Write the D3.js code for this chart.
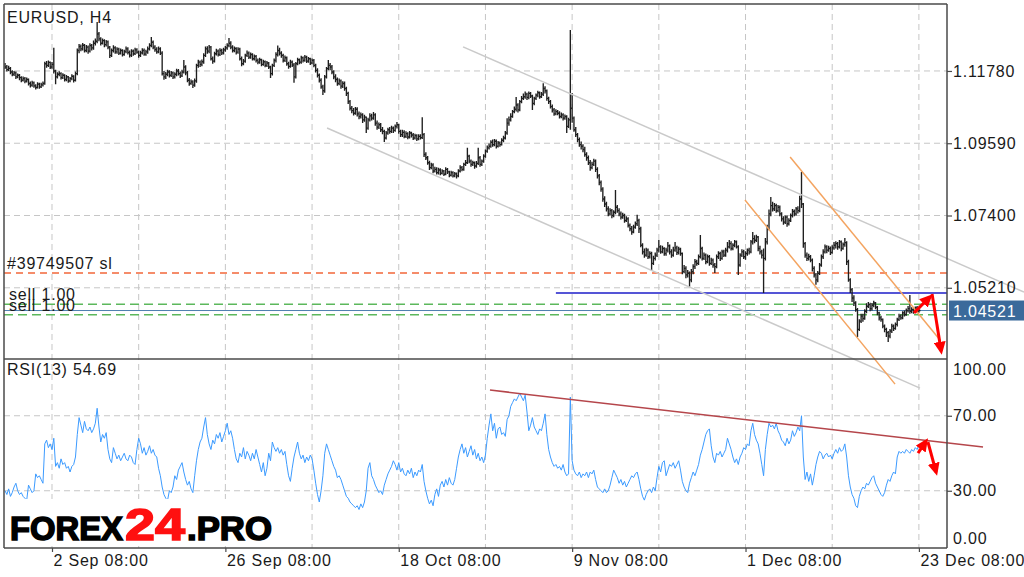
<!DOCTYPE html>
<html>
<head>
<meta charset="utf-8">
<script src="https://cdn.jsdelivr.net/npm/d3@7/dist/d3.min.js"></script>
<style>
body { margin: 0; background: #fff; }
svg text { font-family: "Liberation Sans", Arial, sans-serif; }
</style>
</head>
<body>
<svg id="chart" width="1024" height="577"></svg>
<script>
// EURUSD H4 bars, 2016 (high / low / close per bar)
var highs = [
1.1202,1.1196,1.1194,1.1190,1.1180,1.1178,1.1176,1.1170,1.1169,1.1162,
1.1161,1.1160,1.1158,1.1155,1.1146,1.1148,1.1146,1.1138,1.1144,1.1142,
1.1142,1.1146,1.1206,1.1208,1.1210,1.1207,1.1205,1.1248,1.1182,1.1174,
1.1177,1.1174,1.1171,1.1168,1.1166,1.1163,1.1160,1.1168,1.1165,1.1176,
1.1246,1.1260,1.1258,1.1263,1.1260,1.1257,1.1255,1.1262,1.1260,1.1270,
1.1276,1.1326,1.1296,1.1280,1.1276,1.1274,1.1272,1.1270,1.1254,1.1246,
1.1256,1.1253,1.1250,1.1248,1.1246,1.1244,1.1242,1.1252,1.1250,1.1240,
1.1244,1.1243,1.1248,1.1247,1.1240,1.1239,1.1247,1.1246,1.1242,1.1252,
1.1262,1.1281,1.1270,1.1256,1.1250,1.1252,1.1250,1.1238,1.1178,1.1175,
1.1182,1.1180,1.1178,1.1176,1.1174,1.1185,1.1184,1.1176,1.1182,1.1211,
1.1195,1.1178,1.1157,1.1152,1.1150,1.1155,1.1200,1.1212,1.1210,1.1213,
1.1232,1.1252,1.1253,1.1257,1.1254,1.1222,1.1236,1.1245,1.1243,1.1247,
1.1245,1.1248,1.1254,1.1262,1.1278,1.1268,1.1256,1.1252,1.1250,1.1250,
1.1248,1.1222,1.1214,1.1230,1.1240,1.1237,1.1234,1.1232,1.1228,1.1226,
1.1216,1.1218,1.1215,1.1212,1.1210,1.1208,1.1205,1.1194,1.1200,1.1216,
1.1235,1.1255,1.1248,1.1238,1.1230,1.1225,1.1222,1.1206,1.1212,1.1210,
1.1202,1.1205,1.1218,1.1216,1.1224,1.1222,1.1226,1.1224,1.1220,1.1218,
1.1216,1.1214,1.1200,1.1186,1.1170,1.1156,1.1136,1.1166,1.1190,1.1211,
1.1202,1.1196,1.1180,1.1168,1.1158,1.1155,1.1152,1.1147,1.1146,1.1130,
1.1115,1.1090,1.1072,1.1066,1.1069,1.1068,1.1055,1.1052,1.1050,1.1045,
1.1040,1.1036,1.1050,1.1048,1.1054,1.1050,1.1028,1.1022,1.1020,1.1008,
1.1000,1.0996,1.1006,1.1008,1.1012,1.1010,1.1016,1.1023,1.1018,1.1000,
1.1000,1.0998,1.0995,1.0992,1.0996,1.0994,1.0990,1.0988,1.0986,1.0986,
1.0986,1.1038,1.0990,1.0932,1.0920,1.0906,1.0900,1.0898,1.0888,1.0886,
1.0885,1.0883,1.0880,1.0878,1.0886,1.0884,1.0876,1.0876,1.0874,1.0872,
1.0870,1.0880,1.0892,1.0890,1.0900,1.0908,1.0945,1.0924,1.0910,1.0906,
1.0904,1.0905,1.0945,1.0920,1.0910,1.0926,1.0940,1.0952,1.0958,1.0968,
1.0970,1.0972,1.0970,1.0966,1.0964,1.0974,1.0982,1.0996,1.1035,1.1040,
1.1050,1.1060,1.1070,1.1099,1.1080,1.1090,1.1102,1.1110,1.1116,1.1112,
1.1116,1.1114,1.1106,1.1100,1.1110,1.1118,1.1116,1.1114,1.1141,1.1132,
1.1122,1.1100,1.1090,1.1076,1.1066,1.1062,1.1060,1.1056,1.1052,1.1050,
1.1046,1.1044,1.1036,1.1302,1.1111,1.1040,1.1008,1.0990,1.0976,1.0964,
1.0956,1.0948,1.0932,1.0922,1.0908,1.0903,1.0912,1.0910,1.0886,1.0866,
1.0846,1.0826,1.0798,1.0782,1.0768,1.0762,1.0760,1.0756,1.0817,1.0772,
1.0762,1.0752,1.0748,1.0745,1.0738,1.0735,1.0716,1.0708,1.0712,1.0722,
1.0742,1.0730,1.0706,1.0656,1.0640,1.0642,1.0640,1.0632,1.0630,1.0618,
1.0628,1.0642,1.0666,1.0650,1.0648,1.0644,1.0642,1.0660,1.0652,1.0638,
1.0645,1.0660,1.0648,1.0645,1.0642,1.0628,1.0590,1.0586,1.0575,1.0570,
1.0578,1.0592,1.0608,1.0606,1.0622,1.0681,1.0645,1.0628,1.0625,1.0622,
1.0620,1.0612,1.0610,1.0596,1.0622,1.0632,1.0630,1.0636,1.0636,1.0642,
1.0660,1.0666,1.0662,1.0656,1.0666,1.0664,1.0650,1.0626,1.0638,1.0636,
1.0632,1.0640,1.0642,1.0666,1.0690,1.0680,1.0682,1.0678,1.0648,1.0636,
1.0640,1.0672,1.0712,1.0758,1.0796,1.0782,1.0778,1.0776,1.0772,1.0770,
1.0750,1.0738,1.0740,1.0740,1.0732,1.0746,1.0760,1.0758,1.0766,1.0768,
1.0800,1.0872,1.0778,1.0660,1.0628,1.0624,1.0620,1.0610,1.0586,1.0566,
1.0572,1.0596,1.0622,1.0638,1.0652,1.0650,1.0648,1.0646,1.0650,1.0660,
1.0662,1.0660,1.0666,1.0664,1.0658,1.0672,1.0662,1.0606,1.0550,1.0520,
1.0498,1.0480,1.0460,1.0426,1.0442,1.0442,1.0456,1.0474,1.0478,1.0476,
1.0475,1.0482,1.0478,1.0466,1.0448,1.0436,1.0428,1.0410,1.0400,1.0390,
1.0396,1.0412,1.0410,1.0416,1.0430,1.0442,1.0440,1.0450,1.0452,1.0458,
1.0466,1.0499,1.0462,1.0460,1.0464,1.0466,1.0458
];
var lows = [
1.1184,1.1176,1.1178,1.1168,1.1162,1.1163,1.1154,1.1156,1.1150,1.1144,
1.1146,1.1141,1.1143,1.1134,1.1128,1.1130,1.1127,1.1122,1.1125,1.1124,
1.1126,1.1131,1.1136,1.1188,1.1190,1.1184,1.1185,1.1170,1.1138,1.1155,
1.1162,1.1152,1.1154,1.1146,1.1147,1.1142,1.1144,1.1150,1.1143,1.1146,
1.1165,1.1232,1.1238,1.1240,1.1234,1.1235,1.1230,1.1234,1.1240,1.1242,
1.1255,1.1262,1.1268,1.1255,1.1258,1.1250,1.1252,1.1244,1.1217,1.1220,
1.1234,1.1230,1.1230,1.1226,1.1228,1.1222,1.1224,1.1232,1.1228,1.1219,
1.1220,1.1224,1.1226,1.1230,1.1218,1.1220,1.1228,1.1224,1.1224,1.1230,
1.1240,1.1250,1.1244,1.1236,1.1230,1.1232,1.1226,1.1164,1.1151,1.1154,
1.1162,1.1158,1.1160,1.1154,1.1155,1.1162,1.1164,1.1157,1.1160,1.1170,
1.1165,1.1144,1.1133,1.1136,1.1126,1.1130,1.1142,1.1188,1.1190,1.1192,
1.1200,1.1220,1.1230,1.1232,1.1210,1.1200,1.1204,1.1225,1.1222,1.1223,
1.1226,1.1228,1.1236,1.1242,1.1250,1.1244,1.1234,1.1235,1.1228,1.1230,
1.1210,1.1192,1.1195,1.1203,1.1220,1.1214,1.1215,1.1210,1.1210,1.1204,
1.1198,1.1200,1.1192,1.1194,1.1189,1.1190,1.1184,1.1157,1.1164,1.1190,
1.1204,1.1222,1.1225,1.1218,1.1204,1.1205,1.1194,1.1185,1.1188,1.1190,
1.1142,1.1155,1.1195,1.1198,1.1200,1.1204,1.1206,1.1202,1.1203,1.1196,
1.1198,1.1189,1.1173,1.1158,1.1143,1.1124,1.1105,1.1112,1.1155,1.1180,
1.1180,1.1168,1.1153,1.1144,1.1133,1.1135,1.1124,1.1126,1.1118,1.1102,
1.1078,1.1058,1.1050,1.1043,1.1045,1.1040,1.1032,1.1034,1.1020,1.1024,
1.0990,1.1000,1.1025,1.1028,1.1030,1.1012,1.1000,1.1002,1.0993,1.0986,
1.0963,1.0970,1.0985,1.0988,1.0990,1.0990,1.0994,1.1004,1.0988,1.0978,
1.0978,1.0974,1.0975,1.0971,1.0973,1.0976,1.0969,1.0970,1.0966,1.0968,
1.0970,1.0972,1.0917,1.0908,1.0894,1.0878,1.0880,1.0868,1.0870,1.0864,
1.0864,1.0862,1.0864,1.0860,1.0862,1.0866,1.0856,1.0858,1.0855,1.0856,
1.0852,1.0856,1.0870,1.0874,1.0876,1.0890,1.0896,1.0898,1.0888,1.0890,
1.0882,1.0885,1.0893,1.0888,1.0890,1.0900,1.0915,1.0930,1.0940,1.0945,
1.0948,1.0950,1.0943,1.0946,1.0948,1.0952,1.0962,1.0970,1.0985,1.1012,
1.1025,1.1036,1.1050,1.1055,1.1052,1.1056,1.1080,1.1090,1.1094,1.1090,
1.1092,1.1096,1.1060,1.1074,1.1090,1.1098,1.1094,1.1096,1.1102,1.1110,
1.1088,1.1078,1.1064,1.1052,1.1042,1.1044,1.1044,1.1034,1.1035,1.1028,
1.1030,1.0990,1.1005,1.1000,1.1021,1.0994,1.0978,1.0962,1.0948,1.0940,
1.0932,1.0918,1.0906,1.0893,1.0876,1.0880,1.0890,1.0872,1.0852,1.0832,
1.0812,1.0782,1.0766,1.0752,1.0738,1.0740,1.0732,1.0735,1.0744,1.0748,
1.0738,1.0728,1.0730,1.0718,1.0720,1.0704,1.0692,1.0682,1.0686,1.0700,
1.0708,1.0687,1.0644,1.0622,1.0612,1.0615,1.0608,1.0610,1.0575,1.0590,
1.0604,1.0614,1.0628,1.0624,1.0626,1.0618,1.0618,1.0628,1.0622,1.0612,
1.0615,1.0630,1.0620,1.0622,1.0618,1.0562,1.0565,1.0550,1.0552,1.0524,
1.0538,1.0562,1.0578,1.0588,1.0590,1.0610,1.0604,1.0605,1.0592,1.0595,
1.0588,1.0590,1.0582,1.0566,1.0580,1.0608,1.0602,1.0606,1.0614,1.0615,
1.0628,1.0640,1.0634,1.0635,1.0644,1.0640,1.0560,1.0585,1.0614,1.0608,
1.0606,1.0618,1.0622,1.0626,1.0652,1.0656,1.0660,1.0632,1.0622,1.0610,
1.0505,1.0604,1.0652,1.0695,1.0738,1.0752,1.0754,1.0748,1.0750,1.0738,
1.0722,1.0712,1.0714,1.0706,1.0710,1.0720,1.0734,1.0738,1.0740,1.0746,
1.0750,1.0763,1.0642,1.0612,1.0602,1.0604,1.0598,1.0570,1.0552,1.0530,
1.0538,1.0560,1.0585,1.0608,1.0625,1.0626,1.0630,1.0620,1.0624,1.0636,
1.0640,1.0636,1.0640,1.0632,1.0636,1.0645,1.0590,1.0539,1.0505,1.0478,
1.0466,1.0448,1.0372,1.0390,1.0414,1.0418,1.0424,1.0444,1.0460,1.0450,
1.0452,1.0462,1.0456,1.0438,1.0422,1.0418,1.0398,1.0386,1.0372,1.0357,
1.0368,1.0384,1.0390,1.0394,1.0404,1.0420,1.0424,1.0426,1.0434,1.0436,
1.0446,1.0442,1.0444,1.0442,1.0446,1.0444,1.0445
];
var closes = [
1.1190,1.1182,1.1186,1.1175,1.1168,1.1172,1.1160,1.1165,1.1158,1.1150,
1.1155,1.1147,1.1152,1.1140,1.1135,1.1142,1.1133,1.1128,1.1138,1.1130,
1.1136,1.1140,1.1200,1.1195,1.1204,1.1190,1.1198,1.1178,1.1160,1.1168,
1.1170,1.1158,1.1165,1.1152,1.1160,1.1148,1.1155,1.1162,1.1150,1.1170,
1.1240,1.1252,1.1245,1.1256,1.1240,1.1250,1.1238,1.1255,1.1248,1.1262,
1.1268,1.1290,1.1275,1.1262,1.1270,1.1258,1.1266,1.1250,1.1225,1.1240,
1.1248,1.1236,1.1244,1.1232,1.1240,1.1228,1.1237,1.1245,1.1234,1.1226,
1.1238,1.1230,1.1242,1.1235,1.1225,1.1233,1.1240,1.1229,1.1236,1.1245,
1.1255,1.1265,1.1250,1.1243,1.1236,1.1245,1.1232,1.1170,1.1160,1.1168,
1.1175,1.1165,1.1172,1.1160,1.1168,1.1178,1.1170,1.1163,1.1175,1.1190,
1.1172,1.1150,1.1140,1.1145,1.1135,1.1148,1.1195,1.1205,1.1198,1.1206,
1.1225,1.1245,1.1238,1.1250,1.1215,1.1208,1.1230,1.1238,1.1228,1.1240,
1.1233,1.1242,1.1248,1.1255,1.1262,1.1250,1.1240,1.1246,1.1235,1.1244,
1.1215,1.1200,1.1208,1.1225,1.1232,1.1220,1.1228,1.1215,1.1222,1.1210,
1.1205,1.1212,1.1198,1.1206,1.1195,1.1202,1.1190,1.1170,1.1195,1.1210,
1.1228,1.1240,1.1232,1.1225,1.1210,1.1218,1.1200,1.1192,1.1205,1.1196,
1.1160,1.1200,1.1212,1.1205,1.1218,1.1210,1.1220,1.1208,1.1215,1.1202,
1.1210,1.1195,1.1180,1.1165,1.1150,1.1130,1.1118,1.1160,1.1185,1.1195,
1.1190,1.1175,1.1160,1.1152,1.1140,1.1148,1.1132,1.1140,1.1125,1.1110,
1.1085,1.1065,1.1058,1.1050,1.1062,1.1048,1.1040,1.1045,1.1030,1.1038,
1.1005,1.1030,1.1042,1.1035,1.1045,1.1020,1.1008,1.1015,1.1000,1.0995,
1.0975,1.0990,1.1000,1.0995,1.1005,1.0998,1.1010,1.1015,1.0995,1.0985,
1.0992,1.0980,1.0988,1.0978,1.0990,1.0984,1.0975,1.0982,1.0972,1.0980,
1.0976,1.0985,1.0925,1.0915,1.0900,1.0885,1.0893,1.0875,1.0880,1.0870,
1.0878,1.0868,1.0875,1.0865,1.0880,1.0872,1.0862,1.0870,1.0860,1.0866,
1.0860,1.0875,1.0885,1.0880,1.0895,1.0900,1.0920,1.0905,1.0895,1.0900,
1.0890,1.0898,1.0915,1.0895,1.0905,1.0920,1.0935,1.0945,1.0950,1.0962,
1.0955,1.0965,1.0950,1.0960,1.0955,1.0968,1.0975,1.0990,1.1020,1.1030,
1.1040,1.1055,1.1062,1.1075,1.1060,1.1085,1.1095,1.1100,1.1108,1.1098,
1.1110,1.1102,1.1080,1.1095,1.1105,1.1112,1.1100,1.1108,1.1125,1.1118,
1.1095,1.1085,1.1070,1.1060,1.1048,1.1055,1.1050,1.1040,1.1045,1.1035,
1.1040,1.1010,1.1030,1.1065,1.1035,1.1000,1.0985,1.0970,1.0955,1.0950,
1.0940,1.0925,1.0915,1.0900,1.0885,1.0895,1.0905,1.0880,1.0860,1.0840,
1.0820,1.0790,1.0775,1.0760,1.0745,1.0755,1.0740,1.0750,1.0765,1.0755,
1.0745,1.0735,1.0740,1.0725,1.0730,1.0710,1.0700,1.0690,1.0705,1.0715,
1.0725,1.0700,1.0650,1.0630,1.0620,1.0635,1.0615,1.0625,1.0595,1.0610,
1.0620,1.0635,1.0645,1.0630,1.0640,1.0625,1.0635,1.0648,1.0630,1.0620,
1.0635,1.0642,1.0628,1.0638,1.0625,1.0570,1.0580,1.0560,1.0565,1.0545,
1.0570,1.0585,1.0600,1.0595,1.0615,1.0640,1.0610,1.0620,1.0600,1.0615,
1.0595,1.0605,1.0590,1.0585,1.0615,1.0625,1.0610,1.0630,1.0620,1.0635,
1.0645,1.0655,1.0640,1.0650,1.0660,1.0645,1.0590,1.0620,1.0630,1.0615,
1.0625,1.0635,1.0630,1.0660,1.0670,1.0665,1.0675,1.0640,1.0630,1.0620,
1.0610,1.0660,1.0700,1.0745,1.0770,1.0760,1.0770,1.0755,1.0765,1.0745,
1.0730,1.0720,1.0735,1.0715,1.0725,1.0740,1.0752,1.0745,1.0760,1.0755,
1.0790,1.0775,1.0655,1.0620,1.0610,1.0615,1.0605,1.0580,1.0560,1.0545,
1.0565,1.0590,1.0615,1.0630,1.0645,1.0635,1.0640,1.0628,1.0642,1.0650,
1.0655,1.0645,1.0660,1.0640,1.0652,1.0658,1.0600,1.0545,1.0515,1.0490,
1.0475,1.0455,1.0395,1.0420,1.0435,1.0428,1.0450,1.0465,1.0470,1.0458,
1.0468,1.0475,1.0462,1.0445,1.0430,1.0425,1.0405,1.0395,1.0385,1.0375,
1.0390,1.0405,1.0398,1.0410,1.0425,1.0435,1.0430,1.0445,1.0440,1.0452,
1.0458,1.0450,1.0455,1.0448,1.0460,1.0450,1.04521
];
// RSI(13) per bar
var rsi = [
30,28,31,27,29,32,34,30,28,29,
27,26,25,33,31,29,30,39,37,38,
36,34,55,57,53,55,52,58,43,45,
42,47,44,45,42,43,40,43,44,48,
60,69,65,61,67,63,62,64,61,63,
66,74,64,56,60,58,61,52,47,45,
53,50,47,49,46,48,50,47,46,49,
48,45,44,52,58,55,50,53,49,51,
54,50,52,49,48,42,38,32,28,26,
25,30,29,32,38,36,41,43,45,40,
36,33,35,31,29,38,46,52,56,58,
64,69,60,55,52,57,55,60,58,61,
56,59,62,66,60,62,58,52,47,45,
50,48,53,47,51,49,46,50,47,52,
48,44,40,45,38,42,50,46,56,53,
51,53,50,52,49,51,44,38,35,42,
48,52,56,50,47,49,45,48,46,49,
47,41,34,28,24,30,38,50,55,52,
49,46,43,41,37,38,36,33,30,27,
26,24,23,22,21,22,20,23,21,24,
30,42,45,38,36,33,31,29,30,28,
33,36,39,41,43,46,44,41,45,40,
42,39,38,41,39,42,37,40,38,41,
40,44,35,30,26,23,25,22,28,31,
27,33,35,32,36,33,37,34,33,36,
42,48,52,55,50,53,48,51,54,49,
52,47,50,46,48,45,49,58,65,71,
62,66,58,63,64,60,61,59,68,70,
75,77,79,78,80,82,80,78,81,72,
62,65,69,64,62,60,63,62,66,71,
60,52,48,45,43,44,42,43,41,44,
40,38,39,80,46,41,39,38,40,37,
39,38,40,37,40,39,41,36,32,31,
30,29,31,29,30,33,37,41,39,37,
34,36,33,35,32,34,36,38,37,39,
40,36,31,27,25,28,30,31,29,32,
30,37,43,40,45,46,38,41,44,43,
45,42,44,46,41,35,32,30,29,34,
37,40,38,41,44,49,52,56,60,62,
63,54,48,45,50,49,51,48,50,52,
58,55,52,48,45,47,44,48,50,53,
52,55,54,62,66,60,57,55,50,44,
38,52,60,66,64,65,63,66,62,60,
57,56,54,58,55,57,62,59,61,64,
62,70,48,36,40,35,39,33,38,44,
48,51,50,47,49,50,48,49,47,50,
52,50,53,51,52,55,48,38,32,28,
26,22,21,27,30,32,31,34,33,35,
37,38,34,32,30,28,27,29,33,36,
35,38,40,39,48,51,50,51,50,52,
51,50,52,51,53,52,54.69
];

var dateTicks = [26, 122, 218, 314, 410, 506];
var dateLabels = ["2 Sep 08:00", "26 Sep 08:00", "18 Oct 08:00", "9 Nov 08:00", "1 Dec 08:00", "23 Dec 08:00"];
var priceTicks = [1.11780, 1.09590, 1.07400, 1.05210];
var rsiTicks = [100, 70, 30, 0];
var rsiLevels = [70, 30];
var lastPrice = 1.04521;

// order lines and drawn objects (bar index, value)
var slPrice = 1.0566;
var sellPrices = [1.0471, 1.0439];
var hLine = {from: 305, price: 1.0505};
var grayLines = [[[253.6, 1.1251], [564.2, 1.0508]], [[178.3, 1.1005], [506.6, 1.0217]]];
var orangeLines = [[[409.7, 1.0787], [492.8, 1.0229]], [[434.7, 1.0917], [517.7, 1.0363]]];
var rsiTrend = [[268.5, 83.7], [541.5, 53.3]];
var priceArrows = [[[503.3, 1.0445], [512.0, 1.0493]], [[513.3, 1.0502], [518.3, 1.0330]]];
var rsiArrows = [[[505.5, 50.1], [509.8, 56.2]], [[511, 56], [515.5, 40]]];

var L = 4, R = 947, T = 4, MID = 359, B = 548;
var svg = d3.select("#chart");

var x = d3.scaleLinear().domain([0, closes.length - 1]).range([5.04, 918.9]);
var y = d3.scaleLinear().domain([1.03052, 1.13809]).range([MID, T]);
var yr = d3.scaleLinear().domain([0, 100]).range([547, 359.5]);

svg.append("defs").append("marker")
    .attr("id", "head")
    .attr("markerUnits", "userSpaceOnUse")
    .attr("markerWidth", 13).attr("markerHeight", 12)
    .attr("refX", 9).attr("refY", 6)
    .attr("orient", "auto")
  .append("path")
    .attr("d", "M0,0 L13,6 L0,12 z")
    .attr("fill", "#ff0000");

// grid
var grid = svg.append("g")
    .attr("stroke", "#c6c6c6")
    .attr("stroke-width", 1)
    .attr("stroke-dasharray", "6,4");

grid.selectAll(".gv").data(d3.range(26, closes.length, 48)).enter().append("line")
    .attr("class", "gv")
    .attr("x1", function(d) { return x(d); }).attr("x2", function(d) { return x(d); })
    .attr("y1", T).attr("y2", B);

grid.selectAll(".gp").data(priceTicks).enter().append("line")
    .attr("class", "gp")
    .attr("x1", L).attr("x2", R)
    .attr("y1", function(d) { return y(d); }).attr("y2", function(d) { return y(d); });

grid.selectAll(".gr").data(rsiLevels).enter().append("line")
    .attr("class", "gr")
    .attr("x1", L).attr("x2", R)
    .attr("y1", function(d) { return yr(d); }).attr("y2", function(d) { return yr(d); });

// order lines
svg.append("line")
    .attr("x1", L).attr("x2", R).attr("y1", y(slPrice)).attr("y2", y(slPrice))
    .attr("stroke", "#f2673a").attr("stroke-width", 1.5).attr("stroke-dasharray", "7,5");

svg.selectAll(".sell").data(sellPrices).enter().append("line")
    .attr("class", "sell")
    .attr("x1", L).attr("x2", R)
    .attr("y1", function(d) { return y(d); }).attr("y2", function(d) { return y(d); })
    .attr("stroke", "#5cb85c").attr("stroke-width", 1.5).attr("stroke-dasharray", "9,5");

svg.append("line")
    .attr("x1", L).attr("x2", R).attr("y1", y(lastPrice)).attr("y2", y(lastPrice))
    .attr("stroke", "#4f7fb0").attr("stroke-width", 1);

svg.append("line")
    .attr("x1", x(hLine.from)).attr("x2", R).attr("y1", y(hLine.price)).attr("y2", y(hLine.price))
    .attr("stroke", "#1c1cc8").attr("stroke-width", 1.5);

// bars
svg.append("g").selectAll("path").data(closes).enter().append("path")
    .attr("d", function(c, i) {
      return "M" + x(i) + "," + y(highs[i]) + "V" + y(lows[i]) +
             "M" + x(i) + "," + y(c) + "h1.6";
    })
    .attr("fill", "none")
    .attr("stroke", "#1e1e1e")
    .attr("stroke-width", 1.35);

// RSI
var rsiLine = d3.line()
    .x(function(d, i) { return x(i); })
    .y(function(d) { return yr(d); });

svg.append("path")
    .datum(rsi)
    .attr("d", rsiLine)
    .attr("fill", "none")
    .attr("stroke", "#3c9bff")
    .attr("stroke-width", 1);

// objects
var pline = d3.line().x(function(d) { return x(d[0]); }).y(function(d) { return y(d[1]); });
var rline = d3.line().x(function(d) { return x(d[0]); }).y(function(d) { return yr(d[1]); });

svg.selectAll(".gray").data(grayLines).enter().append("path")
    .attr("class", "gray")
    .attr("d", pline)
    .attr("stroke", "#cacaca").attr("stroke-width", 1.5).attr("fill", "none");

svg.selectAll(".orange").data(orangeLines).enter().append("path")
    .attr("class", "orange")
    .attr("d", pline)
    .attr("stroke", "#f4a460").attr("stroke-width", 1.5).attr("fill", "none");

svg.append("path")
    .datum(rsiTrend)
    .attr("d", rline)
    .attr("stroke", "#b5464b").attr("stroke-width", 1.5).attr("fill", "none");

svg.selectAll(".parrow").data(priceArrows).enter().append("path")
    .attr("class", "parrow")
    .attr("d", pline)
    .attr("stroke", "#ff0000").attr("stroke-width", 3).attr("fill", "none")
    .attr("marker-end", "url(#head)");

svg.selectAll(".rarrow").data(rsiArrows).enter().append("path")
    .attr("class", "rarrow")
    .attr("d", rline)
    .attr("stroke", "#ff0000").attr("stroke-width", 3).attr("fill", "none")
    .attr("marker-end", "url(#head)");

// frame
var frame = svg.append("g").attr("stroke", "#4a4a4a").attr("stroke-width", 1.5);
frame.append("line").attr("x1", L).attr("x2", L).attr("y1", T).attr("y2", B);
frame.append("line").attr("x1", R).attr("x2", R).attr("y1", T).attr("y2", B);
frame.append("line").attr("x1", L).attr("x2", R).attr("y1", T).attr("y2", T);
frame.append("line").attr("x1", L).attr("x2", R).attr("y1", MID).attr("y2", MID);
frame.append("line").attr("x1", L).attr("x2", R).attr("y1", B).attr("y2", B);

// axes
function styleAxis(g) {
  g.select(".domain").remove();
  g.attr("font-family", "Liberation Sans, Arial, sans-serif").attr("font-size", 16);
  g.selectAll("line").attr("stroke", "#4a4a4a").attr("stroke-width", 1.2);
  g.selectAll("text").attr("fill", "#1a1a1a").attr("letter-spacing", "0.8px");
}

svg.append("g")
    .attr("transform", "translate(" + R + ",0)")
    .call(d3.axisRight(y).tickValues(priceTicks).tickFormat(d3.format(".5f")).tickSize(5).tickPadding(1))
    .call(styleAxis);

var ra = svg.append("g")
    .attr("transform", "translate(" + R + ",0)")
    .call(d3.axisRight(yr).tickValues(rsiTicks).tickFormat(d3.format(".2f")).tickSize(5).tickPadding(1))
    .call(styleAxis);
ra.selectAll(".tick").filter(function(d) { return d === 100 || d === 0; }).select("line").remove();
ra.selectAll(".tick text").attr("y", function(d) { return d === 100 ? 10 : (d === 0 ? -9 : 0); });

svg.append("g")
    .attr("transform", "translate(0," + B + ")")
    .call(d3.axisBottom(x).tickValues(dateTicks).tickFormat(function(d, i) { return dateLabels[i]; }).tickSize(4).tickPadding(3))
    .call(styleAxis)
    .selectAll("text").attr("text-anchor", "start").attr("x", 1);

// current price box
svg.append("rect")
    .attr("x", R + 2).attr("y", y(lastPrice) - 10)
    .attr("width", 1024 - R - 2).attr("height", 20)
    .attr("fill", "#3b6a9b");
svg.append("text")
    .attr("x", R + 6).attr("y", y(lastPrice) + 6)
    .attr("font-size", 16).attr("fill", "#fff").attr("letter-spacing", "0.8px")
    .text(d3.format(".5f")(lastPrice));

// labels
var lab = svg.append("g").attr("font-size", 16).attr("fill", "#1a1a1a").attr("letter-spacing", "0.8px");
lab.append("text").attr("x", 7).attr("y", 23).text("EURUSD, H4");
lab.append("text").attr("x", 7).attr("y", y(slPrice) - 4).text("#39749507 sl");
lab.selectAll(".sl").data(sellPrices).enter().append("text")
    .attr("class", "sl")
    .attr("x", 9).attr("y", function(d) { return y(d) - 4; })
    .text("sell 1.00");
lab.append("text").attr("x", 7).attr("y", 375).text("RSI(13) " + d3.format(".2f")(rsi[rsi.length - 1]));

// logo
svg.append("rect").attr("x", 7).attr("y", 499).attr("width", 270).attr("height", 47).attr("fill", "#fff");
var logo = [
  {t: "FOREX", x: 10, w: 113, s: 34, c: "#000"},
  {t: "24", x: 125, w: 60, s: 45, c: "#ff1010"},
  {t: ".PRO", x: 187, w: 85, s: 34, c: "#000"}
];
var lg = svg.append("g").attr("font-family", "DejaVu Sans, sans-serif").attr("font-weight", "bold");
lg.selectAll(".lw").data(logo).enter().append("text")
    .attr("class", "lw")
    .attr("x", function(d) { return d.x; }).attr("y", 540)
    .attr("font-size", function(d) { return d.s; })
    .attr("textLength", function(d) { return d.w; }).attr("lengthAdjust", "spacingAndGlyphs")
    .attr("fill", "#fff").attr("stroke", "#fff").attr("stroke-width", 5).attr("stroke-linejoin", "round")
    .text(function(d) { return d.t; });
lg.selectAll(".lt").data(logo).enter().append("text")
    .attr("class", "lt")
    .attr("x", function(d) { return d.x; }).attr("y", 540)
    .attr("font-size", function(d) { return d.s; })
    .attr("textLength", function(d) { return d.w; }).attr("lengthAdjust", "spacingAndGlyphs")
    .attr("fill", function(d) { return d.c; }).attr("stroke", function(d) { return d.c; }).attr("stroke-width", 1.6)
    .text(function(d) { return d.t; });
</script>
</body>
</html>
